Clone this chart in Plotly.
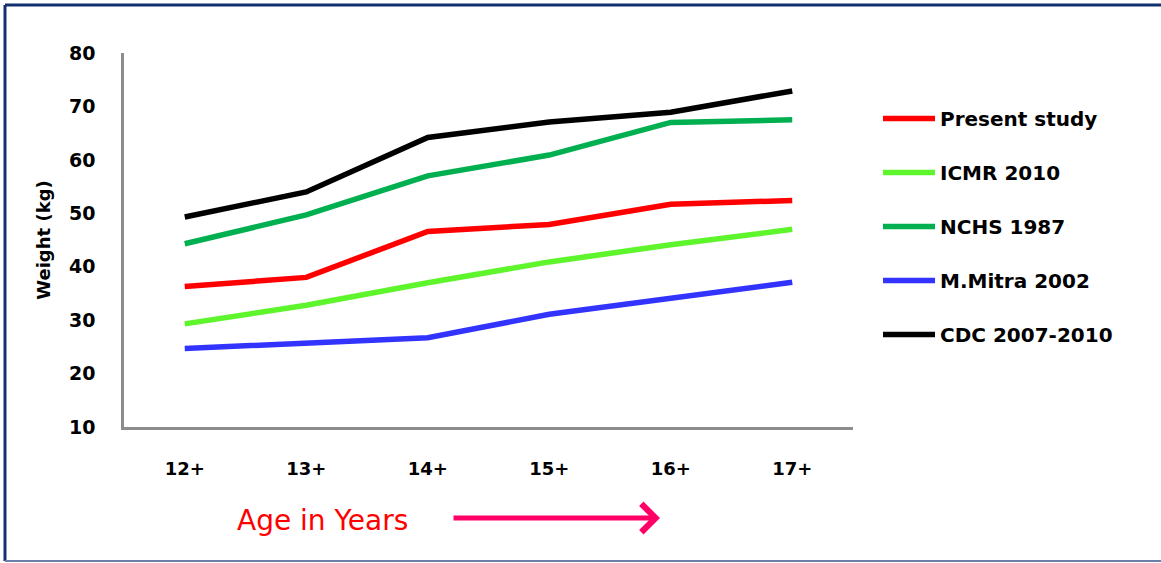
import plotly.graph_objects as go

# Age groups and mean body weight (kg) by reference source
ages = ["12+", "13+", "14+", "15+", "16+", "17+"]
present_study = [36.3, 38.0, 46.6, 47.9, 51.7, 52.4]
icmr_2010 = [29.3, 32.8, 37.0, 40.9, 44.1, 47.0]
nchs_1987 = [44.3, 49.7, 57.0, 60.9, 67.0, 67.5]
mitra_2002 = [24.7, 25.8, 26.7, 31.1, 34.1, 37.1]
cdc_2007_2010 = [49.3, 54.0, 64.2, 67.1, 68.9, 72.9]

series = [
    ("Present study", present_study, "#FF0000"),
    ("ICMR 2010", icmr_2010, "#5EF52C"),
    ("NCHS 1987", nchs_1987, "#00B050"),
    ("M.Mitra 2002", mitra_2002, "#3333FF"),
    ("CDC 2007-2010", cdc_2007_2010, "#000000"),
]

FONT = "DejaVu Sans"
W, H = 1161, 563
ML, MR, MT, MB = 124, 308, 53, 136
PW, PH = W - ML - MR, H - MT - MB

fig = go.Figure()
for i, (name, vals, color) in enumerate(series):
    fig.add_trace(go.Scatter(
        x=ages, y=vals, name=name, mode="lines",
        line=dict(color=color, width=5.5),
        legendgroup=str(i),
    ))


def px_x(p):
    return (p - ML) / PW


def px_y(p):
    return (H - MB - p) / PH


# Frame around the whole figure
frame_color = "#13306E"
fig.add_shape(type="line", xref="paper", yref="paper",
              x0=px_x(5), x1=px_x(W + 5), y0=px_y(5), y1=px_y(5),
              line=dict(color=frame_color, width=3))
fig.add_shape(type="line", xref="paper", yref="paper",
              x0=px_x(5), x1=px_x(5), y0=px_y(5), y1=px_y(561),
              line=dict(color=frame_color, width=3))
fig.add_shape(type="line", xref="paper", yref="paper",
              x0=px_x(5), x1=px_x(W + 5), y0=px_y(561), y1=px_y(561),
              line=dict(color="#6C7FAA", width=2))

# Axis caption with direction arrow
fig.add_annotation(xref="paper", yref="paper", x=px_x(322), y=px_y(520),
                   xanchor="center", yanchor="middle",
                   text="Age in Years", showarrow=False,
                   font=dict(family=FONT, size=28, color="#FF0000"))
fig.add_annotation(xref="paper", yref="paper",
                   x=px_x(660), y=px_y(518), ax=-208, ay=0,
                   axref="pixel", ayref="pixel", text="",
                   showarrow=True, arrowhead=4, arrowsize=1.1,
                   arrowwidth=5, arrowcolor="#FF0066")

fig.update_layout(
    width=W, height=H,
    margin=dict(l=ML, r=MR, t=MT, b=MB),
    paper_bgcolor="white", plot_bgcolor="white",
    font=dict(family=FONT, size=18, color="black"),
    showlegend=True,
    legend=dict(
        x=px_x(878), y=px_y(99), xanchor="left", yanchor="top",
        font=dict(family=FONT, size=20, color="black", weight="bold"),
        tracegroupgap=25, itemwidth=52, bgcolor="rgba(0,0,0,0)",
    ),
    xaxis=dict(
        showgrid=False, zeroline=False,
        showline=True, linecolor="#8C8C8C", linewidth=2.5,
        ticks="outside", ticklen=24, tickcolor="rgba(0,0,0,0)",
        tickfont=dict(family=FONT, size=18, weight="bold"),
        range=[-0.5, 5.5],
    ),
    yaxis=dict(
        range=[10, 80], dtick=10,
        showgrid=False, zeroline=False,
        showline=True, linecolor="#8C8C8C", linewidth=2.5,
        ticks="outside", ticklen=22, tickcolor="rgba(0,0,0,0)",
        tickfont=dict(family=FONT, size=19, weight="bold"),
        title=dict(text="Weight (kg)", standoff=14,
                   font=dict(family=FONT, size=18, weight="bold")),
    ),
)

fig.write_html("out.html")
